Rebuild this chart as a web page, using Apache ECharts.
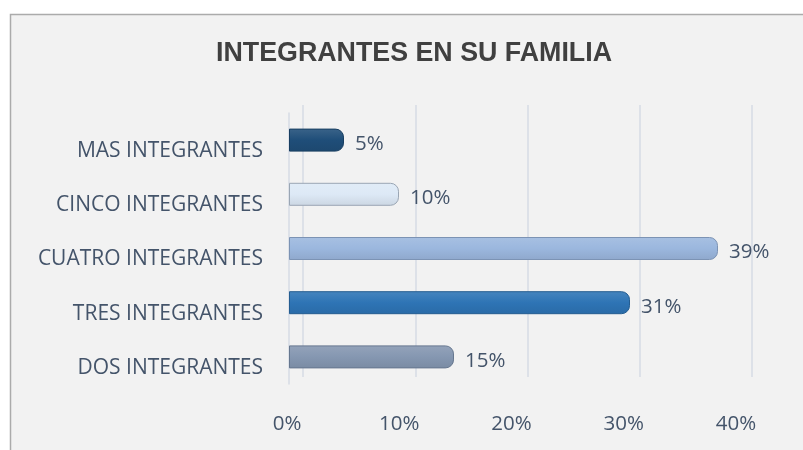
<!DOCTYPE html>
<html>
<head>
<meta charset="utf-8">
<script src="https://cdn.jsdelivr.net/npm/echarts@6/dist/echarts.min.js"></script>
<style>
html,body{margin:0;padding:0;background:#ffffff;}
#c{width:803px;height:450px;}
</style>
</head>
<body>
<div id="c"></div>
<script>
const titleText = 'INTEGRANTES EN SU FAMILIA';
const categories = ['DOS INTEGRANTES', 'TRES INTEGRANTES', 'CUATRO INTEGRANTES', 'CINCO INTEGRANTES', 'MAS INTEGRANTES'];
const values = [15, 31, 39, 10, 5];
const barColors = ['#8597b1', '#2e74b5', '#9bb7de', '#dde9f6', '#1f4e79'];
const barBorders = ['#66778f', '#245d91', '#7c93b4', '#9aa6b4', '#183e61'];
const xTicks = [0, 10, 20, 30, 40];

const chart = echarts.init(document.getElementById('c'), null, {renderer: 'canvas'});
const labelColor = '#44546a';
const font = 'Open Sans';

function shade(hex, f) {
  const n = parseInt(hex.slice(1), 16);
  let r = (n >> 16) & 255, g = (n >> 8) & 255, b = n & 255;
  if (f > 0) { r += (255 - r) * f; g += (255 - g) * f; b += (255 - b) * f; }
  else { r *= (1 + f); g *= (1 + f); b *= (1 + f); }
  return 'rgb(' + Math.round(r) + ',' + Math.round(g) + ',' + Math.round(b) + ')';
}

const barData = values.map((v, i) => ({
  value: v,
  itemStyle: {
    color: new echarts.graphic.LinearGradient(0, 0, 0, 1, [
      {offset: 0, color: shade(barColors[i], 0.12)},
      {offset: 0.5, color: barColors[i]},
      {offset: 1, color: shade(barColors[i], -0.08)}
    ]),
    borderColor: barBorders[i],
    borderWidth: 1,
    borderRadius: [0, 8, 8, 0]
  }
}));

chart.setOption({
  backgroundColor: '#ffffff',
  animation: false,
  graphic: [{
    type: 'rect', z: -10, silent: true,
    shape: {x: 10.5, y: 14.5, width: 820, height: 460},
    style: {fill: '#f2f2f2', stroke: '#ababab', lineWidth: 1.5}
  }],
  title: {
    text: titleText,
    left: 409, top: 35, textAlign: 'center',
    textStyle: {fontFamily: 'Liberation Sans', fontWeight: 'bold', fontSize: 26.8, color: '#404040'}
  },
  grid: [
    {left: 289, top: 113, width: 440, height: 271},
    {left: 303, top: 105, width: 449, height: 272}
  ],
  xAxis: [
    {
      type: 'value', gridIndex: 0, min: 0, max: 40, interval: 10,
      axisLine: {show: false}, axisTick: {show: false}, splitLine: {show: false},
      axisLabel: {show: false}
    },
    {
      type: 'value', gridIndex: 1, min: 0, max: 40, interval: 10,
      axisLine: {show: false}, axisTick: {show: false},
      splitLine: {show: true, lineStyle: {color: '#d6dbe4', width: 1.5}},
      axisLabel: {
        show: true, formatter: v => xTicks.includes(v) ? v + '%' : '',
        color: labelColor, fontFamily: font, fontSize: 20.5, margin: 37,
        padding: [0, 32, 0, 0]
      }
    }
  ],
  yAxis: [
    {
      type: 'category', gridIndex: 0, data: categories,
      axisLine: {show: true, lineStyle: {color: '#d6dbe4', width: 1.5}},
      axisTick: {show: false},
      axisLabel: {color: labelColor, fontFamily: font, fontSize: 21, margin: 26,
                  verticalAlign: 'top', lineHeight: 22}
    },
    {
      type: 'value', gridIndex: 1, min: 0, max: 1, show: false
    }
  ],
  series: [{
    type: 'bar', xAxisIndex: 0, yAxisIndex: 0,
    data: barData, barWidth: 23,
    label: {
      show: true, position: 'right', distance: 11, offset: [0, 4],
      formatter: p => p.value + '%',
      color: labelColor, fontFamily: font, fontSize: 20.5
    }
  }]
});
</script>
</body>
</html>
